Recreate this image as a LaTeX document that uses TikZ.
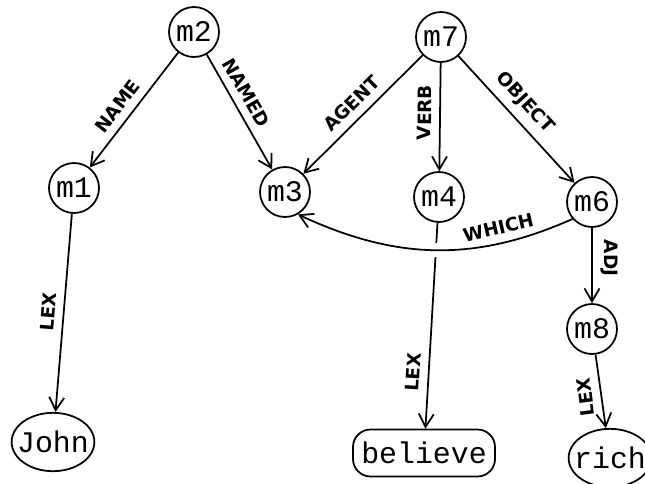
\documentclass[tikz,border=0pt]{standalone}
\usepackage{fontspec}
\usetikzlibrary{arrows.meta,shapes.geometric}

\newfontfamily\typefont{Liberation Mono}
\newfontfamily\labelfont{DejaVu Sans}

\begin{document}
\begin{tikzpicture}[
    line width=1pt,
    >={Straight Barb[length=2.6mm,width=3mm]},
    concept/.style={draw,circle,minimum size=1cm,inner sep=0pt,
      font=\typefont\fontsize{17}{19}\selectfont},
    lexeme/.style={draw,ellipse,inner xsep=-3.75pt,inner ysep=5.5pt,
      font=\typefont\fontsize{17}{19}\selectfont},
    lexbox/.style={draw,rounded corners=0.35cm,minimum width=2.84cm,
      minimum height=0.94cm,inner sep=0pt,font=\typefont\fontsize{17}{19}\selectfont},
    relation/.style={font=\labelfont\bfseries\fontsize{10.5}{12}\selectfont,inner sep=4.5pt}
  ]
  \useasboundingbox (0,0) rectangle (12.9,-9.66);

  \node[concept] (m2) at (3.88,-0.64) {m2};
  \node[concept] (m1) at (1.48,-3.76) {m1};
  \node[concept] (m3) at (5.70,-3.84) {m3};
  \node[concept] (m7) at (8.82,-0.74) {m7};
  \node[concept] (m4) at (8.78,-3.94) {m4};
  \node[concept] (m6) at (11.84,-4.04) {m6};
  \node[concept] (m8) at (11.84,-6.58) {m8};

  \node[lexeme] (john) at (1.06,-8.84) {John};
  \node[lexbox] (believe) at (8.48,-9.06) {believe};
  \node[lexeme] (rich) at (12.2,-9.16) {rich};

  \draw[->] (m2) to node[relation,sloped,above,pos=0.55] {NAME} (m1);
  \draw[->] (m2) to node[relation,sloped,above,pos=0.4] {NAMED} (m3);
  \draw[->] (m7) to node[relation,sloped,above] {AGENT} (m3);
  \draw[->] (m7) to node[relation,sloped,above,pos=0.46] {VERB} (m4);
  \draw[->] (m7) to node[relation,sloped,above,pos=0.46] {OBJECT} (m6);
  \draw[->] (m6) to node[relation,rotate=-90,above,pos=0.4] {ADJ} (m8);

  \draw[->] (m1) to node[relation,sloped,above] {LEX} (john);
  \draw[->] (m4) to node[relation,sloped,above,pos=0.73] {LEX} (believe);
  \draw[->] (m8) to node[relation,rotate=97,above,pos=0.55] {LEX} (rich);

  % white band breaks the m4 line where the curve crosses it
  \draw[->,preaction={draw=white,arrows=-,line width=8pt,
      dash pattern=on 0pt off 2.55cm on 0.45cm off 20cm}]
    (m6.221) to[out=204,in=-25] node[relation,sloped,above,pos=0.25] {WHICH} (m3.-60);
\end{tikzpicture}
\end{document}
